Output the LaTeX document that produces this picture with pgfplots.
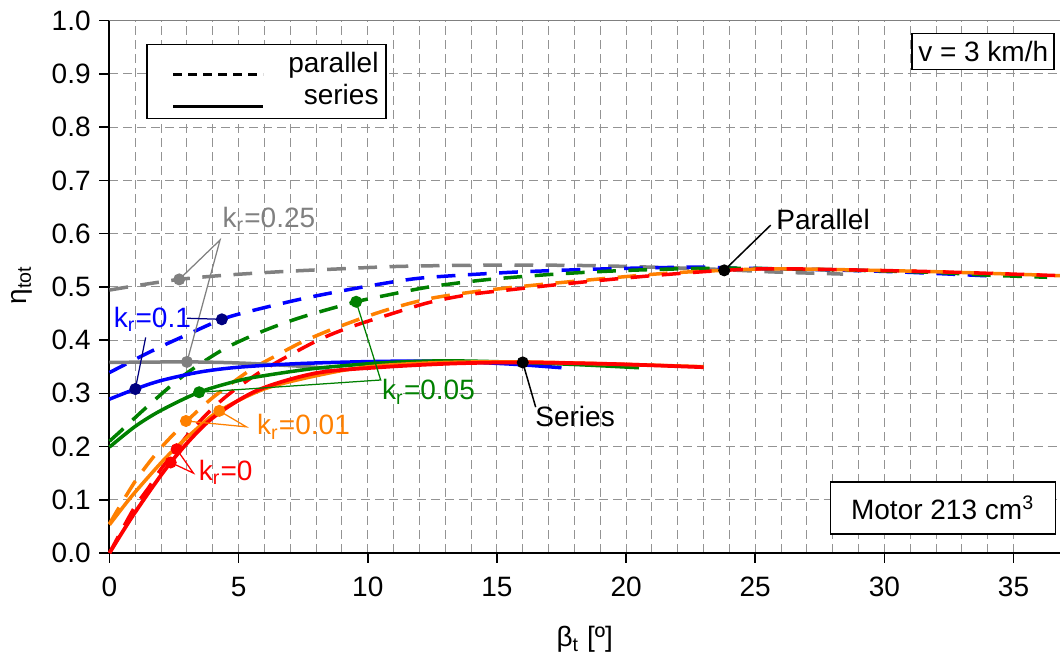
\documentclass[border=0pt]{standalone}
\usepackage{fontspec}
\setmainfont{Liberation Sans}
\usepackage{pgfplots}
\pgfplotsset{compat=1.18}
\definecolor{cgray}{HTML}{808080}
\definecolor{cblue}{HTML}{0000FF}
\definecolor{cnavy}{HTML}{000080}
\definecolor{cgreen}{HTML}{008000}
\definecolor{corange}{HTML}{FF8000}
\definecolor{cred}{HTML}{FF0000}

\begin{document}
\begin{tikzpicture}[font=\fontsize{11.2}{13.4}\selectfont]
\begin{axis}[
  name=ax,
  scale only axis, width=380.2pt, height=212.9pt,
  xmin=0, xmax=36.8, ymin=0, ymax=1,
  xtick={0,5,10,15,20,25,30,35},
  ytick={0,0.1,0.2,0.3,0.4,0.5,0.6,0.7,0.8,0.9,1.0},
  minor x tick num=4,
  axis x line*=bottom, axis y line*=left,
  axis line style={black, line width=0.8pt, -},
  tick align=outside, major tick length=4pt, minor tick length=0pt,
  tick style={black, line width=0.6pt},
  grid=both,
  major grid style={gray!85, line width=0.4pt, dash pattern=on 3.6pt off 2pt},
  minor grid style={gray!85, line width=0.4pt, dash pattern=on 3.6pt off 2pt},
  /pgf/number format/assume math mode=true,
  yticklabel style={/pgf/number format/.cd, fixed, fixed zerofill, precision=1},
  xticklabel style={yshift=-2pt},
  xlabel={β\textsubscript{t} [º]},
  ylabel={η\textsubscript{tot}},
  xlabel style={at={(rel axis cs:0.5,-0.163)}, anchor=center},
  ylabel style={at={(rel axis cs:-0.092,0.504)}, anchor=center},
  legend cell align=right,
  legend image code/.code={\path (0pt,-3.5pt);
    \draw[#1] (7.5pt,-3.5pt) -- (43.5pt,-3.5pt);},
  legend style={at={(0.0384,0.9565)}, anchor=north west, draw=black,
    line width=0.6pt, fill=white, inner xsep=2.4pt, inner ysep=2pt,
    row sep=0pt, nodes={inner sep=0.5pt, text height=8.8pt, text depth=3pt},
    /tikz/every odd column/.append style={column sep=9pt}},
  clip=false,
]
\addlegendimage{black, line width=1.2pt, dash pattern=on 3.6pt off 2.4pt}
\addlegendimage{black, line width=1.2pt}
\legend{parallel, series}

% parallel (dashed)
\addplot[cgray, line width=1.4pt, dash pattern=on 7.5pt off 5pt, smooth] coordinates {
  (0,0.494) (1,0.502) (2.7,0.514) (4.5,0.522) (6.8,0.529) (9,0.534) (10.9,0.538)
  (13,0.540) (15.5,0.541) (18.5,0.540) (21,0.537) (23.5,0.533) (25.7,0.528) (28.4,0.524)};
\addplot[cblue, line width=1.4pt, dash pattern=on 7.5pt off 5pt, smooth] coordinates {
  (0,0.339) (1,0.364) (2,0.388) (3,0.41) (4.35,0.439) (5.5,0.455) (7.5,0.478)
  (9.5,0.497) (11.2,0.511) (12.4,0.518) (15.4,0.527) (18,0.532) (20.2,0.535)
  (22.7,0.537) (24.4,0.535) (27,0.533) (30.6,0.528) (34.3,0.520)};
\addplot[cgreen, line width=1.4pt, dash pattern=on 7.5pt off 5pt, smooth] coordinates {
  (0,0.21) (0.5,0.232) (1.3,0.268) (2.4,0.315) (3.2,0.345) (4.5,0.385) (6,0.418)
  (7.5,0.444) (9.55,0.472) (10.7,0.484) (12.4,0.5) (14.5,0.513) (16.7,0.522)
  (18.7,0.528) (20.7,0.532) (23.4,0.535) (26,0.534) (29,0.531) (32,0.527)
  (34,0.522) (36.3,0.518)};
\addplot[corange, line width=1.4pt, dash pattern=on 7.5pt off 5pt, smooth] coordinates {
  (0,0.055) (1,0.135) (2,0.198) (3,0.248) (4,0.292) (5.4,0.342) (6.5,0.372)
  (7.4,0.395) (8.5,0.418) (10,0.445) (11.1,0.462) (12.4,0.478) (14,0.49)
  (15.6,0.499) (17.9,0.51) (21.4,0.525) (23.8,0.531) (26,0.534) (30.6,0.530)
  (33,0.527) (36.8,0.521)};
\addplot[cred, line width=1.4pt, dash pattern=on 7.5pt off 5pt, smooth] coordinates {
  (0,0) (0.5,0.045) (1,0.088) (1.55,0.125) (2,0.158) (2.6,0.195) (3.2,0.232)
  (4,0.272) (4.8,0.305) (6,0.345) (8,0.398) (9.3,0.424) (10.7,0.446) (12.4,0.471)
  (14,0.486) (15.6,0.495) (17.9,0.507) (21,0.521) (23.8,0.531) (26,0.534)
  (30.6,0.530) (33,0.527) (36.8,0.521)};

% series (solid)
\addplot[cgray, line width=1.4pt, smooth] coordinates {
  (0,0.358) (3,0.359) (5,0.357) (7,0.352) (8.5,0.347)};
\addplot[cblue, line width=1.4pt, smooth] coordinates {
  (0,0.289) (1,0.308) (2,0.324) (3.5,0.34) (5,0.349) (7.4,0.356) (10.5,0.36)
  (13,0.36) (15.5,0.355) (17.5,0.348)};
\addplot[cgreen, line width=1.4pt, smooth] coordinates {
  (0,0.199) (1,0.238) (2,0.268) (3.47,0.302) (5,0.324) (6.1,0.334) (8,0.347)
  (10.5,0.357) (13,0.361) (16,0.358) (18.5,0.353) (20.5,0.348)};
\addplot[corange, line width=1.4pt, smooth] coordinates {
  (0,0.053) (0.9,0.109) (2.2,0.18) (3.3,0.23) (4.25,0.267) (6.1,0.31) (8.7,0.34)
  (10.5,0.352) (13,0.358) (16,0.359) (19.5,0.355) (23,0.35)};
\addplot[cred, line width=1.5pt, smooth] coordinates {
  (0,0) (1,0.077) (2.4,0.172) (3.9,0.25) (5.7,0.305) (8,0.338) (10.5,0.349)
  (13.3,0.356) (16,0.358) (19.5,0.355) (23,0.349)};

% leader lines
\addplot[cgray, line width=0.5pt] coordinates {(2.7,0.514) (4.28,0.588) (3,0.359)};
\addplot[cnavy, line width=0.5pt] coordinates {(3.0,0.441) (4.35,0.439)};
\addplot[cnavy, line width=0.5pt] coordinates {(1.4,0.405) (1,0.308)};
\addplot[cgreen, line width=0.5pt] coordinates {(9.55,0.472) (10.5,0.325) (3.47,0.302)};
\addplot[corange, line width=0.5pt] coordinates {(2.96,0.248) (5.3,0.237) (4.25,0.267)};
\addplot[cred, line width=0.5pt] coordinates {(2.6,0.195) (3.25,0.150) (2.37,0.17)};
\addplot[black, line width=0.6pt] coordinates {(16,0.358) (16.5,0.274)};
\addplot[black, line width=0.6pt] coordinates {(23.8,0.531) (25.6,0.616)};

% markers
\addplot[only marks, mark=*, mark size=2.2pt, cgray] coordinates {(2.7,0.514) (3,0.359)};
\addplot[only marks, mark=*, mark size=2.2pt, cnavy] coordinates {(4.35,0.439) (1,0.308)};
\addplot[only marks, mark=*, mark size=2.2pt, cgreen] coordinates {(9.55,0.472) (3.47,0.302)};
\addplot[only marks, mark=*, mark size=2.2pt, corange] coordinates {(2.96,0.248) (4.25,0.267)};
\addplot[only marks, mark=*, mark size=2.2pt, cred] coordinates {(2.6,0.195) (2.37,0.17)};
\addplot[only marks, mark=*, mark size=2.2pt, black] coordinates {(16,0.358) (23.8,0.531)};

% labels
\node[cgray, anchor=base west, inner sep=0pt] at (axis cs:4.36,0.611) {k\textsubscript{r}=0.25};
\node[cblue, anchor=base west, inner sep=0pt] at (axis cs:0.15,0.423) {k\textsubscript{r}=0.1};
\node[cgreen, anchor=base west, inner sep=0pt] at (axis cs:10.54,0.2875) {k\textsubscript{r}=0.05};
\node[corange, anchor=base west, inner sep=0pt] at (axis cs:5.7,0.2217) {k\textsubscript{r}=0.01};
\node[cred, anchor=base west, inner sep=0pt] at (axis cs:3.44,0.137) {k\textsubscript{r}=0};
\node[black, anchor=base west, inner sep=0pt] at (axis cs:16.47,0.2374) {Series};
\node[black, anchor=base west, inner sep=0pt] at (axis cs:25.8,0.607) {Parallel};

\draw[gray, line width=0.6pt] (rel axis cs:0,1) -- (rel axis cs:1,1);
\node[draw=black, fill=white, line width=0.6pt, anchor=north east,
  minimum width=56.8pt, minimum height=14.4pt, inner sep=1pt]
  at (rel axis cs:0.9947,0.977) {v = 3 km/h};
\node[draw=black, fill=white, line width=0.6pt, anchor=south east,
  minimum width=90pt, minimum height=20.8pt, inner sep=1pt]
  at (rel axis cs:0.9958,0.0338) {Motor 213 cm\textsuperscript{3}};
\end{axis}
\pgfresetboundingbox
\path[use as bounding box] ([xshift=-43.8pt,yshift=-45.2pt]ax.south west)
  rectangle ([yshift=8.3pt]ax.north east);
\end{tikzpicture}
\end{document}
